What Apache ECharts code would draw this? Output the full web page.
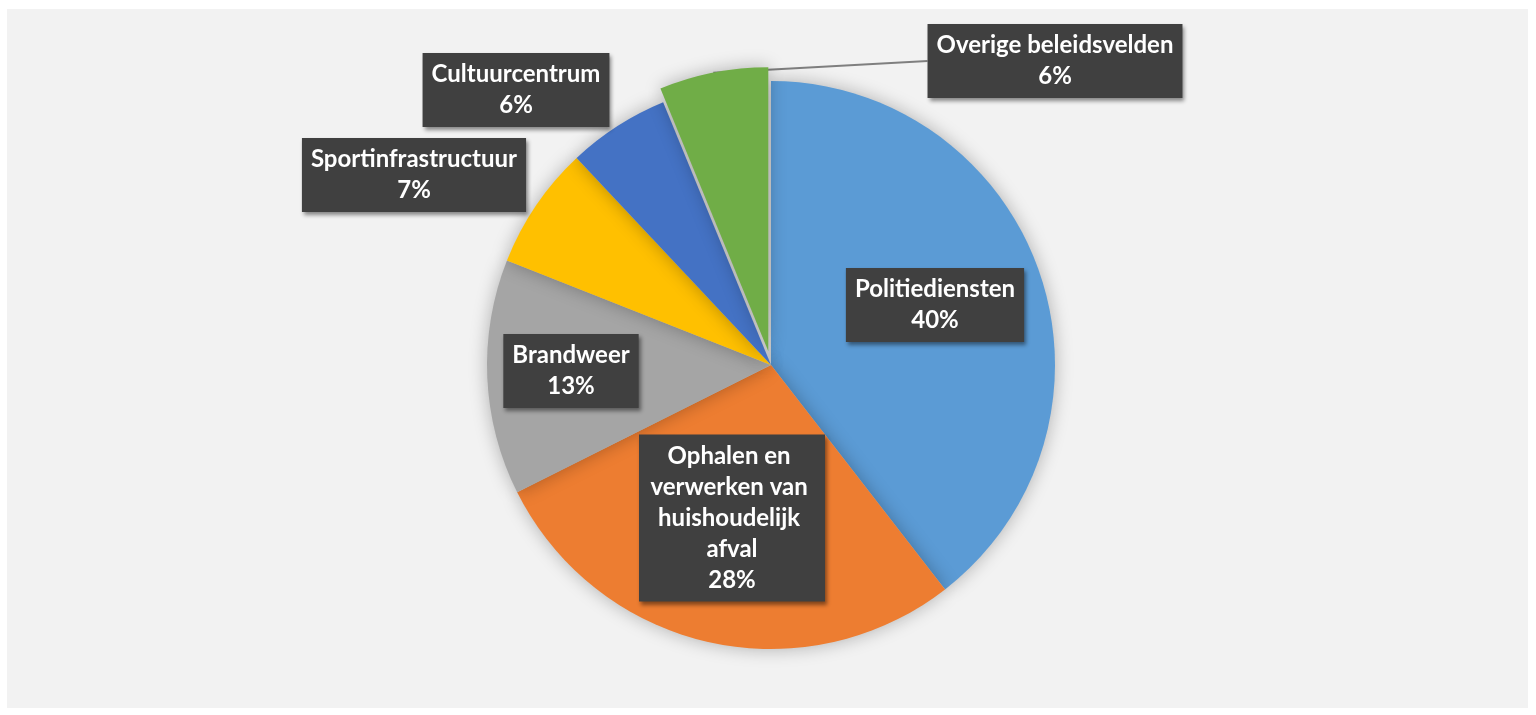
<!DOCTYPE html>
<html><head><meta charset="utf-8">
<script src="https://cdn.jsdelivr.net/npm/echarts@6/dist/echarts.min.js"></script>
<style>
html,body{margin:0;padding:0;background:#ffffff;}
#bg{position:absolute;left:7px;top:9px;width:1521px;height:699px;background:#f2f2f2;}
#chart{position:absolute;left:0;top:0;width:1536px;height:715px;}
</style></head><body>
<div id="bg"></div><div id="chart"></div>
<script>
// ---- data ----
const categories = ['Politiediensten', 'Ophalen en verwerken van huishoudelijk afval', 'Brandweer', 'Sportinfrastructuur', 'Cultuurcentrum', 'Overige beleidsvelden'];
const shares = [39.5, 28.1, 13.4, 7.0, 5.8, 6.2];
const colors = ['#5B9BD5', '#ED7D31', '#A5A5A5', '#FFC000', '#4472C4', '#70AD47'];
const explodedIndex = 5;
const outsideIndices = [3, 4, 5];

// ---- layout ----
const pieCenter = [771, 365];
const pieRadius = 284;
const explodeOffset = 14;
const labelCentres = [[935, 305], [732, 518], [571, 371], [414, 175], [516, 90], [1055, 61]];

// exploded slice centre, derived from the slice's own bisector angle
const total = shares.reduce((a, b) => a + b, 0);
const before = shares.slice(0, explodedIndex).reduce((a, b) => a + b, 0);
const midAngle = (before + shares[explodedIndex] / 2) / total * 2 * Math.PI;
const explodedCenter = [pieCenter[0] + Math.sin(midAngle) * explodeOffset,
                        pieCenter[1] - Math.cos(midAngle) * explodeOffset];
const arcMidPoint = [explodedCenter[0] + Math.sin(midAngle) * pieRadius,
                     explodedCenter[1] - Math.cos(midAngle) * pieRadius];

const chart = echarts.init(document.getElementById('chart'), null, {renderer: 'canvas'});

function makeData(showExploded) {
  return categories.map((name, i) => {
    const isExploded = i === explodedIndex;
    const visible = showExploded ? isExploded : !isExploded;
    const outside = outsideIndices.includes(i);
    const item = {
      name: name,
      value: shares[i],
      itemStyle: {color: visible ? colors[i] : 'transparent', shadowColor: visible ? 'rgba(0,0,0,0.28)' : 'transparent'},
      label: {show: visible, position: outside ? 'outside' : 'inside'},
      labelLine: {show: visible && isExploded}
    };
    if (i === 1) {
      item.label.width = 168;
      item.label.overflow = 'break';
    }
    return item;
  });
}

const baseSeries = {
  type: 'pie',
  radius: pieRadius,
  startAngle: 90,
  clockwise: true,
  silent: true,
  avoidLabelOverlap: false,
  emphasis: {disabled: true},
  itemStyle: {
    borderWidth: 0,
    shadowBlur: 18
  },
  label: {
    color: '#ffffff',
    fontFamily: 'Lato, "Open Sans", sans-serif',
    fontWeight: 'bold',
    fontSize: 24,
    lineHeight: 31,
    align: 'center',
    backgroundColor: '#404040',
    padding: [6, 9, 6, 9],
    shadowColor: 'rgba(0,0,0,0.45)',
    shadowBlur: 4,
    shadowOffsetX: 2,
    shadowOffsetY: 3,
    formatter: p => p.name + '\n' + Math.round(p.percent) + '%'
  },
  labelLine: {
    length: 10,
    length2: 0,
    smooth: false,
    lineStyle: {color: '#7f7f7f', width: 2}
  },
  labelLayout: function (params) {
    const c = labelCentres[params.dataIndex];
    const res = {x: c[0], y: c[1], align: 'center', verticalAlign: 'middle'};
    if (params.dataIndex === explodedIndex && params.labelRect) {
      const end = [c[0] - params.labelRect.width / 2, c[1]];
      res.labelLinePoints = [arcMidPoint, arcMidPoint, end];
    }
    return res;
  }
};

chart.setOption({
  animation: false,
  backgroundColor: 'transparent',
  series: [
    Object.assign({}, baseSeries, {center: pieCenter, data: makeData(false)}),
    Object.assign({}, baseSeries, {center: explodedCenter, data: makeData(true)})
  ]
});
</script>
</body></html>
